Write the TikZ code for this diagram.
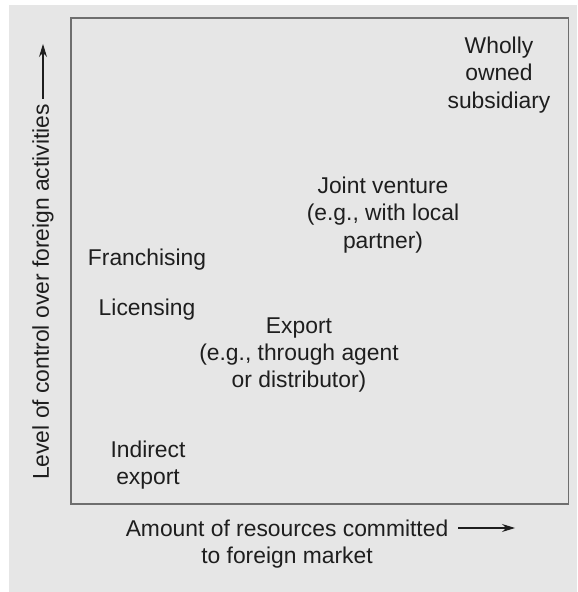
\documentclass[tikz,border=0pt]{standalone}
\usepackage{fontspec}
\setmainfont{Liberation Sans}
\usetikzlibrary{arrows.meta, positioning}
\definecolor{bgpaper}{HTML}{E6E6E6}
\definecolor{frameline}{HTML}{6E6E6E}
\definecolor{inktext}{HTML}{1E1E1E}
\tikzset{
  % testo di una modalita di entrata
  mode/.style={align=center, text=inktext, inner sep=1pt,
    font=\fontsize{13}{15.6}\selectfont},
  % etichette degli assi
  axislbl/.style={mode},
  % freccia degli assi
  axisarrow/.style={-{Stealth[length=2.6mm, width=1.6mm]}, line width=0.6pt, inktext},
  % cornice del grafico
  frame/.style={draw=frameline, line width=0.9pt},
}

\begin{document}
\begin{tikzpicture}
  \useasboundingbox (0,0) rectangle (11.54,11.84);
  \fill[bgpaper] (0.18,0) rectangle (11.54,11.74);
  \draw[frame] (1.42,1.76) rectangle (11.37,11.48);
  % modalita
  \node[mode] (wholly) at (9.98,10.34) {Wholly\\owned\\subsidiary};
  \node[mode] (joint) at (7.66,7.54) {Joint venture\\(e.g., with local\\partner)};
  \node[mode] (franch) at (2.94,6.65) {Franchising};
  \node[mode] (licens) at (2.94,5.65) {Licensing};
  \node[mode] (export) at (5.98,4.74) {Export\\(e.g., through agent\\or distributor)};
  \node[mode] (indirect) at (2.96,2.54) {Indirect\\export};
  % assi
  \node[axislbl] (xlbl) at (5.74,0.96) {Amount of resources committed\\to foreign market};
  \coordinate (xa) at (9.16,1.28);
  \coordinate (xb) at (10.30,1.28);
  \draw[axisarrow] (xa) -- (xb);
  \node[axislbl, rotate=90] (ylbl) at (0.86,6.0) {Level of control over foreign activities};
  \coordinate (ya) at (0.86,9.86);
  \coordinate (yb) at (0.86,10.96);
  \draw[axisarrow] (ya) -- (yb);
\end{tikzpicture}
\end{document}
